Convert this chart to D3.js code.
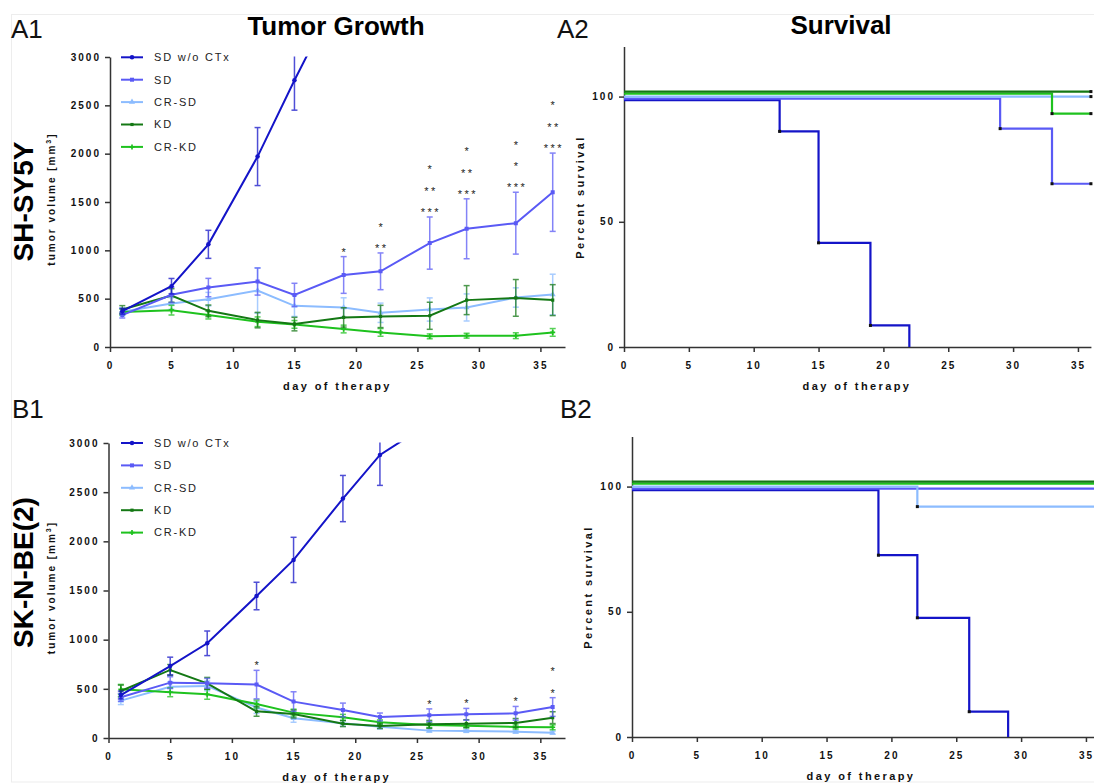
<!DOCTYPE html>
<html lang="en">
<head>
<meta charset="UTF-8">
<script src="https://d3js.org/d3.v7.min.js"></script>
<title>Tumor growth and survival</title>
<style>
  body { margin: 0; background: #fff; }
  svg { font-family: "Liberation Sans", Arial, sans-serif; }
  .axis path, .axis line { stroke: #333; stroke-width: 1.5px; }
  .axis text { font-family: "Liberation Sans", Arial, sans-serif; font-size: 10px; font-weight: bold; letter-spacing: 2px; fill: #111; }
  .axis_title { font-size: 11px; font-weight: bold; letter-spacing: 2.4px; fill: #111; }
  .vol_title { font-size: 10px; font-weight: bold; letter-spacing: 2px; fill: #111; }
  .cell_line { font-size: 28px; font-weight: bold; fill: #000; }
  .legend_text { font-size: 11px; letter-spacing: 1.8px; fill: #222; }
  .panel_label { font-size: 26px; fill: #111; }
  .title { font-size: 26px; font-weight: bold; fill: #000; }
  .star { font-size: 11px; letter-spacing: 2.5px; fill: #222; }
</style>
</head>
<body>
<script>
const groups = ["SD w/o CTx", "SD", "CR-SD", "KD", "CR-KD"];
const colors = ["#1414c8", "#5a5af5", "#8cbcff", "#147814", "#1ec21e"];
const days = [1, 5, 8, 12, 15, 19, 22, 26, 29, 33, 36];
const dayTicks = [0, 5, 10, 15, 20, 25, 30, 35];
const volTicks = [0, 500, 1000, 1500, 2000, 2500, 3000];
const survTicks = [0, 50, 100];

// SH-SY5Y tumor volume (mean, error), one array per group
const a1Mean = [
  [370, 629, 1062, 1970, 2760, 3760],
  [330, 540, 615, 677, 539, 745, 783, 1075, 1223, 1281, 1601],
  [364, 450, 495, 584, 426, 409, 354, 388, 409, 512, 543],
  [388, 533, 374, 278, 237, 306, 316, 323, 485, 508, 485],
  [361, 381, 330, 261, 234, 186, 151, 110, 117, 117, 151]
];
const a1Err = [
  [30, 80, 145, 300, 310, null],
  [30, 80, 95, 140, 120, 190, 190, 270, 310, 320, 405],
  [40, 60, 70, 235, 110, 100, 100, 120, 140, 100, 210],
  [40, 70, 60, 80, 70, 100, 115, 140, 150, 190, 160],
  [30, 50, 40, 50, 40, 40, 40, 25, 25, 30, 40]
];
const a1StarDays = [19, 22, 26, 29, 33, 36];
const a1Stars = [["*"], ["*", "**"], ["*", "**", "***"], ["*", "**", "***"], ["*", "*", "***"], ["*", "**", "***"]];

// SK-N-BE(2) tumor volume
const b1Mean = [
  [437, 732, 963, 1444, 1811, 2435, 2879, 3200],
  [414, 563, 556, 543, 370, 285, 214, 231, 241, 251, 315],
  [380, 522, 530, 310, 200, 149, 115, 75, 72, 64, 54],
  [478, 692, 556, 271, 244, 146, 122, 139, 146, 153, 207],
  [495, 465, 444, 346, 258, 210, 159, 132, 125, 112, 109]
];
const b1Err = [
  [40, 90, 125, 140, 230, 235, 310, null],
  [40, 60, 50, 145, 100, 70, 40, 65, 60, 70, 95],
  [40, 50, 50, 60, 40, 30, 25, 15, 15, 15, 15],
  [60, 55, 60, 50, 40, 30, 25, 40, 40, 45, 60],
  [50, 45, 50, 40, 35, 30, 25, 25, 20, 20, 25]
];
const b1StarDays = [12, 26, 29, 33, 36];
const b1Stars = [["*"], ["*"], ["*"], ["*"], ["*", "*"]];

// survival: event days and percent surviving
const a2Days = [[0, 12, 15, 19, 22], [0, 29, 33, 36], [0, 36], [0, 36], [0, 33, 36]];
const a2Surv = [[100, 87.5, 43, 10, 0], [100, 88, 66, 66], [100, 100], [100, 100], [100, 92, 92]];
const b2Days = [[0, 19, 22, 26, 29], [0, 36], [0, 22, 36], [0, 36], [0, 36]];
const b2Surv = [[100, 74, 49, 11.5, 0], [100, 100], [100, 92, 92], [100, 100], [100, 100]];

const width = 1094, height = 783;
const svg = d3.select("body").append("svg")
  .attr("width", width).attr("height", height);
const defs = svg.append("defs");

svg.append("rect")
  .attr("x", 11.5).attr("y", 14.5).attr("width", 1200).attr("height", 767.5)
  .attr("fill", "none").attr("stroke", "#ededed");

const symbols = [d3.symbolCircle, d3.symbolSquare, d3.symbolTriangle, d3.symbolSquare, d3.symbolCross];
const symSize = [16, 16, 16, 10, 14];
const survOffset = [3.5, 2, 0, -5, -3];
const fmt = d3.format("d");

function drawGrowth(p) {
  const x = d3.scaleLinear().domain([0, 37]).range([p.left, p.right]);
  const y = d3.scaleLinear().domain([0, 3000]).range([p.bottom, p.top]);

  svg.append("g").attr("class", "axis")
    .attr("transform", "translate(0," + p.bottom + ")")
    .call(d3.axisBottom(x).tickValues(dayTicks).tickFormat(fmt).tickSize(5).tickPadding(10).tickSizeOuter(0));
  svg.append("g").attr("class", "axis")
    .attr("transform", "translate(" + p.left + ",0)")
    .call(d3.axisLeft(y).tickValues(volTicks).tickFormat(fmt).tickSize(5).tickPadding(4).tickSizeOuter(0));

  defs.append("clipPath").attr("id", p.id)
    .append("rect")
    .attr("x", p.left - 10).attr("y", y(3000) - 0.5)
    .attr("width", p.right - p.left + 20).attr("height", p.bottom - y(3000) + 10);

  const plot = svg.append("g").attr("clip-path", "url(#" + p.id + ")");
  const line = d3.line().x(d => x(d.day)).y(d => y(d.v));
  const order = [2, 4, 3, 1, 0];

  order.forEach(function (g) {
    const pts = p.mean[g].map((v, i) => ({ day: days[i], v: v, e: p.err[g][i] }));
    const grp = plot.append("g");
    // error bars
    pts.filter(d => d.e != null).forEach(function (d) {
      const bar = grp.append("g").attr("stroke", colors[g]).attr("stroke-width", 1.5).attr("opacity", 0.75);
      bar.append("line").attr("x1", x(d.day)).attr("x2", x(d.day))
        .attr("y1", y(d.v - d.e)).attr("y2", y(d.v + d.e));
      [d.v - d.e, d.v + d.e].forEach(function (c) {
        bar.append("line").attr("x1", x(d.day) - 3).attr("x2", x(d.day) + 3)
          .attr("y1", y(c)).attr("y2", y(c));
      });
    });
    grp.append("path").attr("d", line(pts))
      .attr("fill", "none").attr("stroke", colors[g]).attr("stroke-width", 2);
    grp.selectAll(".mk").data(pts).enter().append("path")
      .attr("transform", d => "translate(" + x(d.day) + "," + y(d.v) + ")")
      .attr("d", d3.symbol().type(symbols[g]).size(symSize[g]))
      .attr("fill", colors[g]);
  });

  // significance stars above SD error bars
  p.starDays.forEach(function (day, k) {
    const i = days.indexOf(day);
    const top = y(p.mean[1][i] + p.err[1][i]);
    const rows = p.stars[k].slice().reverse();
    rows.forEach(function (s, r) {
      svg.append("text").attr("class", "star")
        .attr("x", x(day) + 1.25).attr("y", top - 1 - r * 21.3)
        .attr("text-anchor", "middle").text(s);
    });
  });

  // legend
  groups.forEach(function (name, g) {
    const ly = p.legendTop + g * 22.4;
    svg.append("line").attr("x1", 121).attr("x2", 143).attr("y1", ly).attr("y2", ly)
      .attr("stroke", colors[g]).attr("stroke-width", 2);
    svg.append("path").attr("transform", "translate(132," + ly + ")")
      .attr("d", d3.symbol().type(symbols[g]).size(symSize[g])).attr("fill", colors[g]);
    svg.append("text").attr("class", "legend_text")
      .attr("x", 154).attr("y", ly).attr("dy", "0.35em").text(name);
  });

  svg.append("text").attr("class", "axis_title")
    .attr("x", (p.left + p.right) / 2).attr("y", p.bottom + 43)
    .attr("text-anchor", "middle").text("day of therapy");

  const vt = svg.append("text").attr("class", "vol_title")
    .attr("transform", "translate(55," + ((p.top + p.bottom) / 2 - 3) + ") rotate(-90)")
    .attr("text-anchor", "middle");
  vt.append("tspan").text("tumor volume [mm");
  vt.append("tspan").attr("font-size", "7px").attr("dy", -4).text("3");
  vt.append("tspan").attr("dy", 4).text("]");

  svg.append("text").attr("class", "cell_line")
    .attr("transform", "translate(33," + p.cellY + ") rotate(-90)")
    .attr("text-anchor", "middle").text(p.cell);
}

function drawSurvival(p) {
  const x = d3.scaleLinear().domain([0, 36]).range([p.left, p.left + 36 * 12.97]);
  const y = d3.scaleLinear().domain([0, 120]).range([p.bottom, p.bottom - 300.5]);

  svg.append("g").attr("class", "axis")
    .attr("transform", "translate(0," + p.bottom + ")")
    .call(d3.axisBottom(x).tickValues(dayTicks).tickFormat(fmt).tickSize(5).tickPadding(10).tickSizeOuter(0));
  svg.append("g").attr("class", "axis")
    .attr("transform", "translate(" + p.left + ",0)")
    .call(d3.axisLeft(y).tickValues(survTicks).tickFormat(fmt).tickSize(5).tickPadding(4).tickSizeOuter(0));

  const order = [0, 1, 2, 4, 3];
  order.forEach(function (g) {
    const pts = p.days[g].map((d, i) => ({ day: d, s: p.surv[g][i] }));
    const off = survOffset[g];
    const line = d3.line().curve(d3.curveStepAfter)
      .x(d => x(d.day)).y(d => Math.min(y(d.s) + off, p.bottom));
    svg.append("path").attr("d", line(pts))
      .attr("fill", "none").attr("stroke", colors[g]).attr("stroke-width", 2.2);
    svg.selectAll(null).data(pts.filter((d, i) => i > 0 && d.s > 0)).enter()
      .append("rect")
      .attr("x", d => x(d.day) - 1.5).attr("y", d => y(d.s) + off - 1.5)
      .attr("width", 3).attr("height", 3).attr("fill", "#111");
  });

  svg.append("text").attr("class", "axis_title")
    .attr("x", p.titleX).attr("y", p.bottom + 43)
    .attr("text-anchor", "middle").text("day of therapy");
  svg.append("text").attr("class", "axis_title")
    .attr("transform", "translate(" + p.yTitleX + "," + (p.bottom - 150) + ") rotate(-90)")
    .attr("text-anchor", "middle").text("Percent survival");
}

drawGrowth({ id: "clipA1", left: 110, right: 565, top: 57, bottom: 347,
  mean: a1Mean, err: a1Err, starDays: a1StarDays, stars: a1Stars,
  legendTop: 57.3, cell: "SH-SY5Y", cellY: 201.5 });
drawGrowth({ id: "clipB1", left: 108.5, right: 565, top: 443, bottom: 738,
  mean: b1Mean, err: b1Err, starDays: b1StarDays, stars: b1Stars,
  legendTop: 443, cell: "SK-N-BE(2)", cellY: 572.5 });
drawSurvival({ left: 624, bottom: 347, days: a2Days, surv: a2Surv, titleX: 857, yTitleX: 584 });
drawSurvival({ left: 632, bottom: 737, days: b2Days, surv: b2Surv, titleX: 861, yTitleX: 592 });

// panel letters and titles
[["A1", 11, 38], ["A2", 557, 38], ["B1", 12, 418], ["B2", 560, 418]].forEach(function (t) {
  svg.append("text").attr("class", "panel_label").attr("x", t[1]).attr("y", t[2]).text(t[0]);
});
svg.append("text").attr("class", "title").attr("x", 336).attr("y", 35)
  .attr("text-anchor", "middle").text("Tumor Growth");
svg.append("text").attr("class", "title").attr("x", 841).attr("y", 34)
  .attr("text-anchor", "middle").text("Survival");
</script>
</body>
</html>
